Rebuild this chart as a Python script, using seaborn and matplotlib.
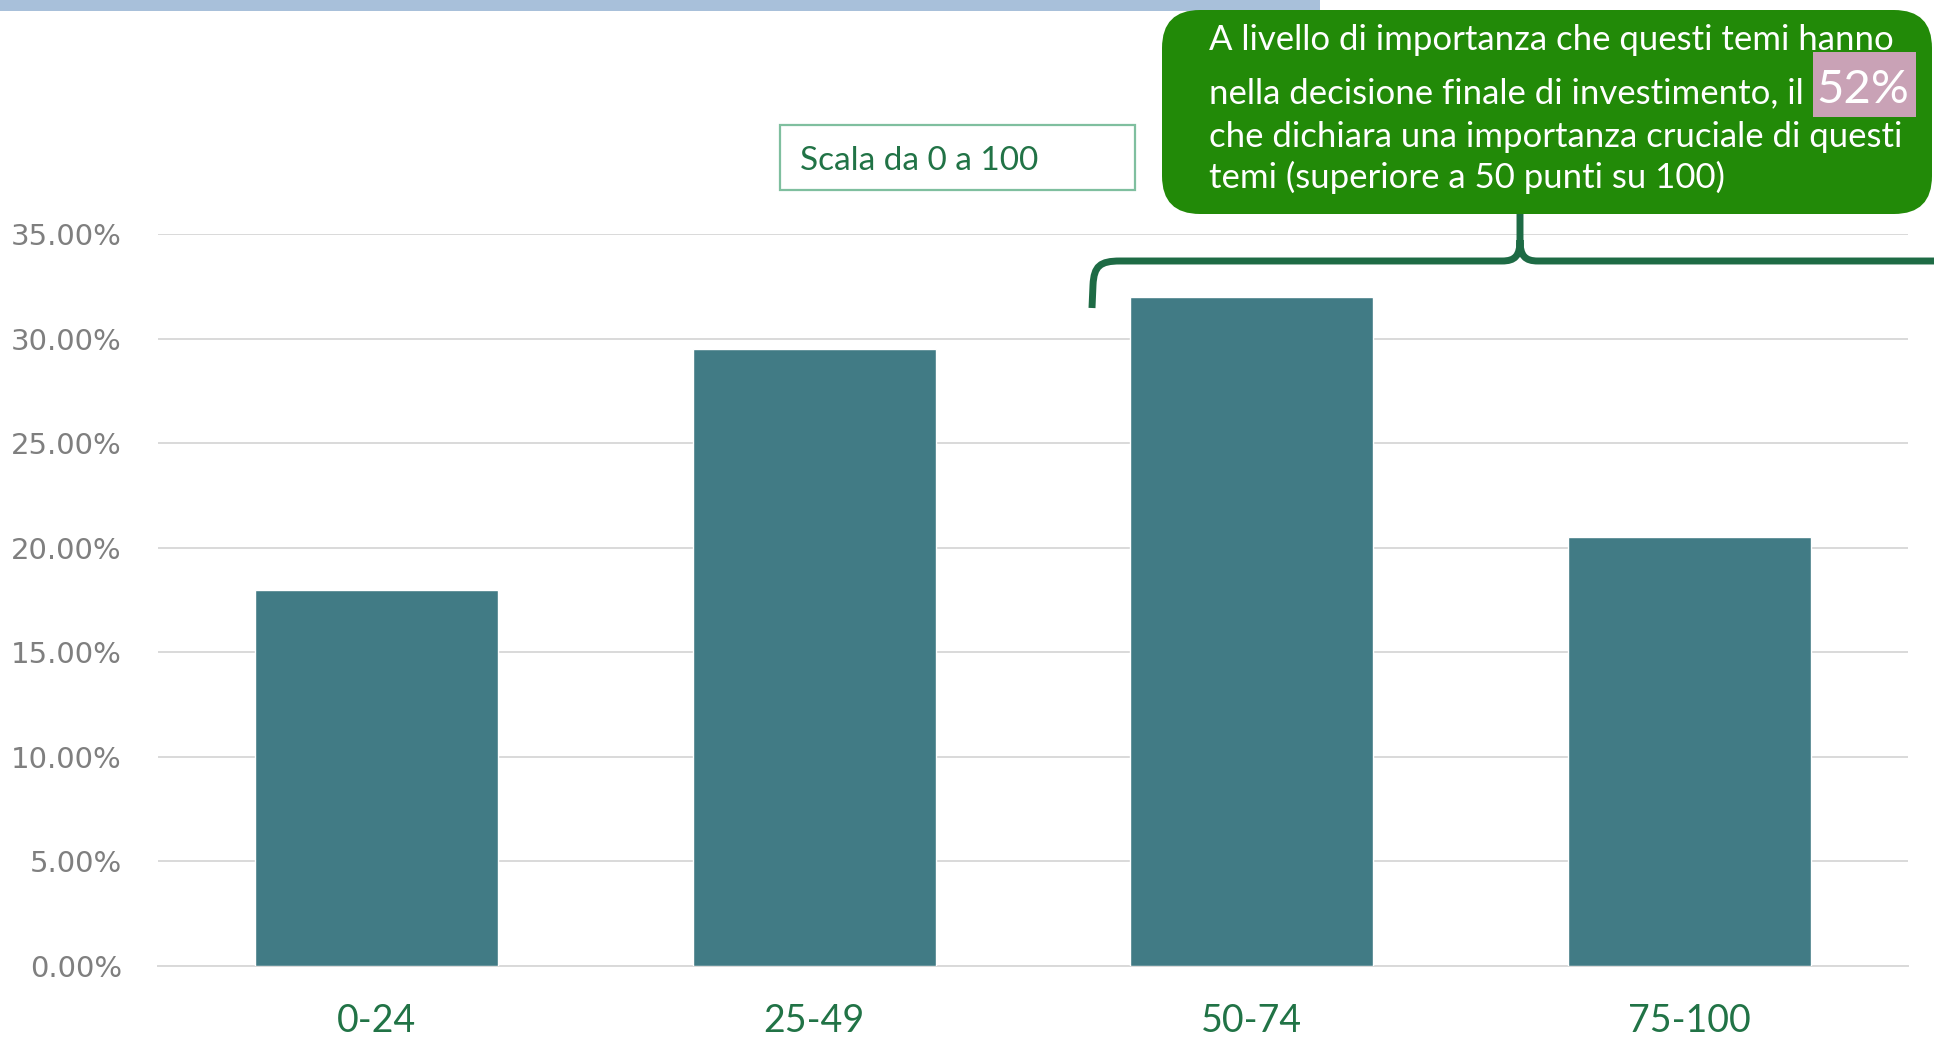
import matplotlib
matplotlib.use("Agg")
import matplotlib.pyplot as plt
import matplotlib.transforms as mtransforms
from matplotlib.patches import FancyBboxPatch, Rectangle, PathPatch
from matplotlib.path import Path
from matplotlib.ticker import FuncFormatter
import seaborn as sns
import pandas as pd

# Distribution of importance scores (share of respondents)
categories = ["0-24", "25-49", "50-74", "75-100"]
shares = [0.180, 0.295, 0.320, 0.205]
yticks = [0.00, 0.05, 0.10, 0.15, 0.20, 0.25, 0.30, 0.35]

callout_lines = [
    "A livello di importanza che questi temi hanno",
    "nella decisione finale di investimento, il ",
    "che dichiara una importanza cruciale di questi",
    "temi (superiore a 50 punti su 100)",
]
highlight = "52%"
scale_note = "Scala da 0 a 100"

BAR = "#417B85"
GRID = "#D9D9D9"
DARK_GREEN = "#217346"
CALLOUT = "#228A08"
PINK = "#C9A2B6"
TOPBAR = "#A8C0DA"

sns.set_theme(style="white")
plt.rcParams["font.family"] = ["DejaVu Sans"]

W, H = 1934, 1038
fig = plt.figure(figsize=(W / 100, H / 100), dpi=100)
fig.patch.set_facecolor("white")

# pixel coordinates, origin at the top-left corner
px = mtransforms.Affine2D().scale(1 / W, -1 / H).translate(0, 1) + fig.transFigure

ax = fig.add_axes([158 / W, 72 / H, 1750 / W, 732 / H])
df = pd.DataFrame({"range": categories, "share": shares})
sns.barplot(data=df, x="range", y="share", color=BAR, saturation=1,
            width=0.555, ax=ax, zorder=3)

ax.set_xlim(-0.5, len(categories) - 0.5)
ax.set_ylim(0, 0.35)
ax.set_yticks(yticks)
ax.yaxis.set_major_formatter(FuncFormatter(lambda v, _: f"{v * 100:.2f}%"))
ax.grid(axis="y", color=GRID, linewidth=1.4, zorder=0)
ax.grid(axis="x", visible=False)
ax.set_axisbelow(True)
for side in ["top", "right", "left"]:
    ax.spines[side].set_visible(False)
ax.spines["bottom"].set_color(GRID)
ax.spines["bottom"].set_linewidth(1.4)
ax.set_xlabel("")
ax.set_ylabel("")
ax.tick_params(axis="y", length=0, pad=26, labelsize=21, labelcolor="#7F7F7F")
ax.tick_params(axis="x", length=0, pad=27, labelsize=27, labelcolor=DARK_GREEN)
for lbl in ax.get_xticklabels():
    lbl.set_fontfamily("Lato")
ax.patch.set_alpha(0)

# thin header band
fig.patches.append(Rectangle((0, 0), 1320, 11, transform=px, facecolor=TOPBAR,
                             edgecolor="none", zorder=1))

# scale note box
fig.patches.append(Rectangle((780, 125), 355, 65, transform=px, facecolor="white",
                             edgecolor="#7FBF9F", linewidth=1.6, zorder=2))
fig.text(800 / W, 1 - 170 / H, scale_note, fontsize=24, family="Lato",
         color=DARK_GREEN, va="baseline", ha="left", zorder=3)

# callout bubble
fig.patches.append(FancyBboxPatch((1162, 10), 770, 204, transform=px,
                                  boxstyle="round,pad=0,rounding_size=38",
                                  facecolor=CALLOUT, edgecolor="none", zorder=4))
baselines = [50, 103, 147, 188]
for text, yb in zip(callout_lines, baselines):
    fig.text(1209 / W, 1 - yb / H, text, fontsize=25, family="Lato",
             color="white", va="baseline", ha="left", zorder=5)

fig.patches.append(Rectangle((1813, 52), 103, 65, transform=px, facecolor=PINK,
                             edgecolor="none", zorder=5))
fig.text(1863 / W, 1 - 103 / H, highlight, fontsize=34, family="Lato",
         color="white", va="baseline", ha="center", zorder=6)

# curly brace linking the callout to the upper ranges
verts = [
    (1092, 308), (1093, 285),
    (1094, 266), (1100, 261), (1120, 261),
    (1502, 261),
    (1515, 261), (1520, 256), (1520, 240),
    (1520, 213),
    (1520, 240),
    (1520, 256), (1525, 261), (1538, 261),
    (1960, 261),
]
codes = [Path.MOVETO, Path.LINETO,
         Path.CURVE4, Path.CURVE4, Path.CURVE4,
         Path.LINETO,
         Path.CURVE4, Path.CURVE4, Path.CURVE4,
         Path.LINETO,
         Path.MOVETO,
         Path.CURVE4, Path.CURVE4, Path.CURVE4,
         Path.LINETO]
fig.patches.append(PathPatch(Path(verts, codes), transform=px, fill=False,
                             edgecolor="#1E6B45", linewidth=5, zorder=3,
                             capstyle="butt", joinstyle="round"))

fig.savefig("out.png", dpi=100, facecolor="white")
